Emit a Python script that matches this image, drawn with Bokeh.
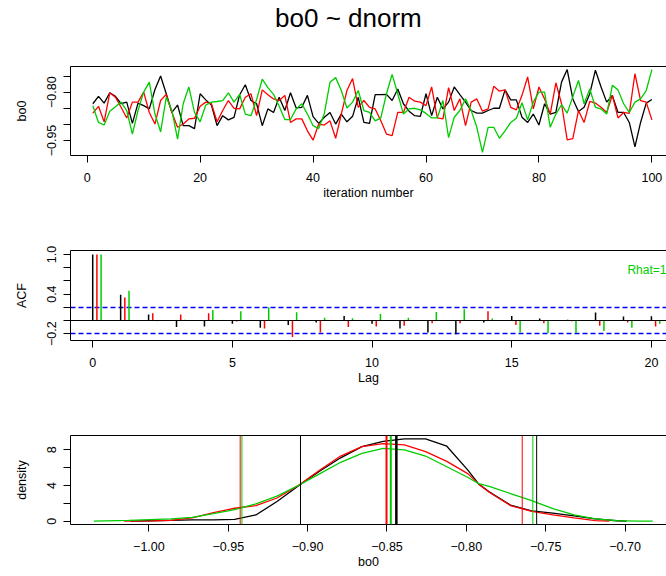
from bokeh.plotting import figure
from bokeh.layouts import column
from bokeh.models import Range1d, FixedTicker, Span, Label, ColumnDataSource, LinearAxis
from bokeh.transform import dodge
from bokeh.core.properties import value
from bokeh.embed import file_html
from bokeh.resources import INLINE

# ---------------- data ----------------
iterations = list(range(1, 101))

chain_black = [
    -0.836, -0.813, -0.834, -0.802, -0.813, -0.836, -0.831, -0.897, -0.834, -0.842,
    -0.852, -0.792, -0.750, -0.805, -0.863, -0.840, -0.904, -0.904, -0.913, -0.805,
    -0.824, -0.840, -0.904, -0.873, -0.886, -0.878, -0.808, -0.777, -0.826, -0.836,
    -0.904, -0.852, -0.863, -0.816, -0.857, -0.802, -0.849, -0.847, -0.810, -0.876,
    -0.897, -0.878, -0.863, -0.899, -0.868, -0.892, -0.875, -0.816, -0.894, -0.897,
    -0.808, -0.808, -0.807, -0.826, -0.790, -0.836, -0.859, -0.873, -0.875, -0.805,
    -0.873, -0.816, -0.852, -0.831, -0.784, -0.808, -0.831, -0.857, -0.865, -0.865,
    -0.857, -0.850, -0.850, -0.793, -0.824, -0.824, -0.878, -0.894, -0.868, -0.902,
    -0.836, -0.868, -0.863, -0.769, -0.730, -0.821, -0.860, -0.847, -0.805, -0.732,
    -0.784, -0.831, -0.810, -0.863, -0.863, -0.894, -0.970, -0.894, -0.834, -0.823,
]
chain_red = [
    -0.865, -0.844, -0.892, -0.802, -0.816, -0.847, -0.880, -0.831, -0.831, -0.800,
    -0.863, -0.899, -0.826, -0.807, -0.863, -0.909, -0.899, -0.883, -0.881, -0.844,
    -0.831, -0.836, -0.892, -0.857, -0.826, -0.850, -0.852, -0.816, -0.805, -0.873,
    -0.793, -0.808, -0.821, -0.826, -0.810, -0.894, -0.883, -0.883, -0.920, -0.949,
    -0.899, -0.902, -0.889, -0.943, -0.868, -0.795, -0.758, -0.847, -0.826, -0.847,
    -0.852, -0.889, -0.930, -0.935, -0.863, -0.863, -0.816, -0.828, -0.831, -0.842,
    -0.784, -0.880, -0.883, -0.786, -0.857, -0.821, -0.904, -0.831, -0.821, -0.859,
    -0.852, -0.782, -0.797, -0.793, -0.847, -0.855, -0.810, -0.753, -0.852, -0.784,
    -0.821, -0.868, -0.771, -0.836, -0.948, -0.944, -0.857, -0.894, -0.829, -0.834,
    -0.847, -0.863, -0.810, -0.880, -0.863, -0.866, -0.743, -0.826, -0.831, -0.886,
]
chain_green = [
    -0.842, -0.894, -0.902, -0.859, -0.845, -0.831, -0.857, -0.930, -0.857, -0.800,
    -0.769, -0.868, -0.923, -0.816, -0.857, -0.946, -0.836, -0.784, -0.863, -0.892,
    -0.840, -0.831, -0.829, -0.826, -0.802, -0.831, -0.807, -0.868, -0.873, -0.823,
    -0.760, -0.786, -0.807, -0.844, -0.885, -0.885, -0.852, -0.836, -0.868, -0.904,
    -0.913, -0.866, -0.769, -0.755, -0.795, -0.849, -0.831, -0.795, -0.857, -0.863,
    -0.889, -0.880, -0.805, -0.745, -0.805, -0.868, -0.852, -0.850, -0.855, -0.866,
    -0.880, -0.880, -0.826, -0.941, -0.878, -0.857, -0.821, -0.857, -0.909, -0.987,
    -0.909, -0.909, -0.943, -0.920, -0.894, -0.881, -0.833, -0.886, -0.831, -0.800,
    -0.800, -0.909, -0.868, -0.839, -0.865, -0.814, -0.764, -0.836, -0.790, -0.847,
    -0.852, -0.868, -0.779, -0.793, -0.836, -0.863, -0.831, -0.821, -0.795, -0.730,
]

lags = list(range(0, 21))
acf_black = [1.0, 0.39, 0.09, -0.10, -0.09, -0.05, -0.11, -0.07, -0.03, 0.07, -0.05,
             -0.12, -0.18, -0.21, -0.03, 0.07, 0.03, 0.01, 0.12, 0.06, 0.065]
acf_red = [1.0, 0.35, 0.11, 0.09, 0.11, -0.015, -0.12, -0.25, -0.18, -0.10, -0.09,
           -0.08, -0.04, -0.04, 0.14, -0.07, -0.04, -0.01, -0.08, -0.03, -0.09]
acf_green = [1.0, 0.45, -0.01, 0.01, 0.16, 0.14, 0.20, 0.125, 0.04, 0.035, 0.10,
             0.04, 0.13, 0.17, 0.03, -0.18, -0.19, -0.19, -0.16, -0.11, -0.05]
acf_bounds = [0.196, -0.196]
rhat_text = "Rhat=1"

dens_black_x = [-1.0115, -0.9994, -0.9861, -0.9727, -0.9593, -0.9460, -0.9326, -0.9193,
                -0.9059, -0.8925, -0.8792, -0.8658, -0.8524, -0.8390, -0.8257, -0.8123,
                -0.7989, -0.7922, -0.7856, -0.7722, -0.7588, -0.7455, -0.7321, -0.7188,
                -0.7054, -0.6990]
dens_black_y = [0.0, 0.05, 0.10, 0.15, 0.15, 0.20, 0.70, 2.20,
                3.95, 5.60, 7.10, 8.35, 8.95, 9.22, 9.22, 8.40,
                5.70, 4.15, 3.30, 1.80, 1.15, 0.90, 0.60, 0.25,
                0.05, 0.0]
dens_red_x = [-1.0155, -0.9994, -0.9861, -0.9727, -0.9593, -0.9460, -0.9326, -0.9193,
              -0.9059, -0.8925, -0.8792, -0.8658, -0.8524, -0.8390, -0.8257, -0.8123,
              -0.7989, -0.7922, -0.7856, -0.7722, -0.7588, -0.7455, -0.7321, -0.7188,
              -0.7100]
dens_red_y = [0.0, 0.03, 0.10, 0.37, 0.95, 1.45, 1.75, 2.60,
              4.00, 5.70, 7.30, 8.35, 8.70, 8.55, 7.80, 6.70,
              5.30, 4.15, 3.25, 1.75, 1.10, 0.70, 0.37, 0.07,
              0.0]
dens_green_x = [-1.0347, -1.0128, -0.9994, -0.9861, -0.9727, -0.9593, -0.9460, -0.9326,
                -0.9193, -0.9059, -0.8925, -0.8792, -0.8658, -0.8524, -0.8390, -0.8257,
                -0.8123, -0.7989, -0.7922, -0.7856, -0.7722, -0.7588, -0.7455, -0.7321,
                -0.7188, -0.7054, -0.6920, -0.6826]
dens_green_y = [0.0, 0.10, 0.18, 0.26, 0.42, 0.85, 1.30, 1.95,
                2.80, 4.00, 5.30, 6.60, 7.60, 8.15, 8.00, 7.30,
                6.10, 4.90, 4.20, 3.90, 3.10, 2.30, 1.40, 0.70,
                0.25, 0.07, 0.01, 0.0]

# quantile lines: lower, median, upper
q_black = [-0.9045, -0.8441, -0.7557]
q_red = [-0.9425, -0.8503, -0.7648]
q_green = [-0.9414, -0.8476, -0.7581]

title_text = "bo0 ~ dnorm"
trace_xticks = [0, 20, 40, 60, 80, 100]
trace_yticks = [-0.95, -0.90, -0.85, -0.80, -0.75]
trace_ylabels = {-0.95: "\u22120.95", -0.80: "\u22120.80", -0.90: "", -0.85: "", -0.75: ""}
acf_xticks = [0, 5, 10, 15, 20]
acf_yticks = [-0.2, 0.0, 0.2, 0.4, 0.6, 0.8, 1.0]
acf_ylabels = {-0.2: "\u22120.2", 0.0: "", 0.2: "", 0.4: "0.4", 0.6: "", 0.8: "", 1.0: "1.0"}
dens_xticks = [-1.00, -0.95, -0.90, -0.85, -0.80, -0.75, -0.70]
dens_xlabels = {v: "\u2212%.2f" % abs(v) for v in dens_xticks}
dens_yticks = [0, 2, 4, 6, 8]
dens_ylabels = {0: "0", 2: "", 4: "4", 6: "", 8: "8"}

# ---------------- styling ----------------
FONT = "Liberation Sans"
BLACK, RED, GREEN, BLUE = "#000000", "#FF0000", "#00CD00", "#0000FF"
COLORS = [BLACK, RED, GREEN]
W = 666
LEFT = 70


def style(p, xticks, xlabels, yticks, ylabels, xlabel, ylabel):
    p.xgrid.visible = False
    p.ygrid.visible = False
    p.outline_line_color = None
    p.background_fill_color = "white"
    p.border_fill_color = "white"
    p.xaxis.ticker = FixedTicker(ticks=xticks)
    p.yaxis.ticker = FixedTicker(ticks=yticks)
    if xlabels:
        p.xaxis.major_label_overrides = xlabels
    if ylabels:
        p.yaxis.major_label_overrides = ylabels
    p.xaxis.axis_label = xlabel
    p.yaxis.axis_label = ylabel
    for ax in (p.xaxis[0], p.yaxis[0]):
        ax.axis_line_color = "black"
        ax.axis_line_width = 1
        ax.major_tick_line_color = "black"
        ax.major_tick_out = 7
        ax.major_tick_in = 0
        ax.minor_tick_out = 0
        ax.minor_tick_in = 0
        ax.major_label_text_font = FONT
        ax.major_label_text_font_size = "12.5px"
        ax.major_label_text_color = "black"
        ax.axis_label_text_font = FONT
        ax.axis_label_text_font_size = "12.5px"
        ax.axis_label_text_font_style = "normal"
        ax.axis_label_text_color = "black"
    p.xaxis.major_label_standoff = 10
    p.xaxis.axis_label_standoff = 1
    p.yaxis.major_label_orientation = "vertical"
    p.yaxis.major_label_standoff = 7
    p.yaxis.axis_label_standoff = 16
    # top border of the box (the right side runs past the window)
    top = LinearAxis(ticker=FixedTicker(ticks=[]), axis_line_color="black",
                     axis_line_width=1, major_tick_out=0, major_tick_in=0,
                     minor_tick_out=0, minor_tick_in=0,
                     major_label_text_font_size="0px", axis_label=None)
    p.add_layout(top, "above")


def make_fig(height, top, bottom, xr, yr):
    return figure(width=W, height=height, x_range=Range1d(*xr), y_range=Range1d(*yr),
                  output_backend="svg", toolbar_location=None,
                  min_border_left=LEFT, min_border_right=0,
                  min_border_top=top, min_border_bottom=bottom)


# ---------------- title strip (pixel coordinates) ----------------
TITLE_H = 40
pt = figure(width=W, height=TITLE_H, x_range=Range1d(LEFT, W), y_range=Range1d(TITLE_H, 0),
            output_backend="svg", toolbar_location=None,
            x_axis_type=None, y_axis_type=None,
            min_border_left=LEFT, min_border_right=0, min_border_top=0, min_border_bottom=0)
pt.xgrid.visible = False
pt.ygrid.visible = False
pt.outline_line_color = None
pt.background_fill_color = "white"
pt.border_fill_color = "white"
pt.text(x=[347.9], y=[17.6], text=[title_text], text_font=value(FONT),
        text_font_size="26px", text_align="center", text_baseline="middle",
        text_color="black")

# ---------------- panel 1: traces ----------------
p1 = make_fig(205 - TITLE_H, 66 - TITLE_H, 50, (-2.958, 102.59), (-0.9965, -0.7205))
style(p1, trace_xticks, None, trace_yticks, trace_ylabels, "iteration number", "bo0")
for ch, c in zip([chain_black, chain_red, chain_green], COLORS):
    p1.line(iterations, ch, line_color=c, line_width=1.3)

# ---------------- panel 2: ACF ----------------
p2 = make_fig(185, 45, 50, (-0.795, 20.54), (-0.303, 1.0606))
style(p2, acf_xticks, None, acf_yticks, acf_ylabels, "Lag", "ACF")
src = ColumnDataSource(dict(lag=lags, a1=acf_black, a2=acf_red, a3=acf_green))
p2.add_layout(Span(location=0, dimension="width", line_color="black", line_width=1))
p2.hspan(y=acf_bounds, line_color=BLUE, line_width=1.5, line_dash="5 3")
for col, c, off in zip(["a1", "a2", "a3"], COLORS, [0.0, 0.15, 0.30]):
    p2.segment(x0=dodge("lag", off), y0=0, x1=dodge("lag", off), y1=col,
               source=src, line_color=c, line_width=1.5)
p2.add_layout(Label(x=19.14, y=0.758, text=rhat_text, text_font=FONT,
                    text_font_size="12px", text_color=GREEN, text_baseline="alphabetic"))

# ---------------- panel 3: density ----------------
p3 = make_fig(186, 45, 52, (-1.0494, -0.6739), (-0.37, 9.6))
style(p3, dens_xticks, dens_xlabels, dens_yticks, dens_ylabels, "bo0", "density")
for xs, ys, c in zip([dens_black_x, dens_red_x, dens_green_x],
                     [dens_black_y, dens_red_y, dens_green_y], COLORS):
    p3.line(xs, ys, line_color=c, line_width=1.3)
for qs, c, mw in zip([q_black, q_red, q_green], COLORS, [2.5, 2, 2]):
    for k, q in enumerate(qs):
        p3.add_layout(Span(location=q, dimension="height", line_color=c,
                           line_width=mw if k == 1 else 1))

layout = column(pt, p1, p2, p3, spacing=0)
open("out.html", "w").write(file_html(layout, INLINE))
